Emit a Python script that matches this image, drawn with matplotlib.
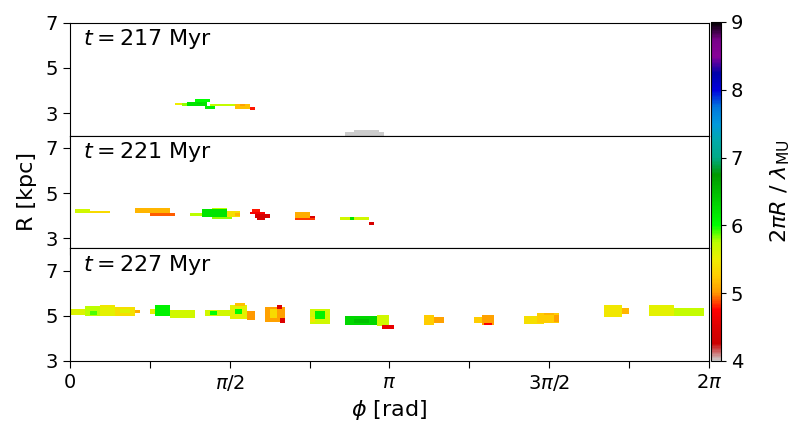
import matplotlib
matplotlib.use("Agg")
import matplotlib.pyplot as plt
import numpy as np

# clumps: (phi0, phi1, R0, R1, 2piR/lambda_MU)
CLUMPS_217 = [
    (1.02, 1.13, 3.35, 3.46, 5.5),
    (1.10, 1.20, 3.30, 3.46, 5.8),
    (1.23, 1.38, 3.50, 3.60, 6.0),
    (1.16, 1.36, 3.32, 3.52, 6.2),
    (1.24, 1.30, 3.38, 3.46, 6.3),
    (1.32, 1.42, 3.18, 3.32, 6.1),
    (1.38, 1.62, 3.28, 3.42, 5.7),
    (1.61, 1.77, 3.22, 3.42, 5.2),
    (1.66, 1.72, 3.30, 3.42, 5.05),
    (1.76, 1.82, 3.13, 3.27, 4.8),
    (2.70, 3.10, 2.00, 2.14, 4.0),
    (2.80, 3.05, 2.14, 2.26, 4.0),
]
CLUMPS_221 = [
    (0.04, 0.20, 4.08, 4.28, 5.65),
    (0.20, 0.39, 4.08, 4.22, 5.35),
    (0.63, 0.98, 4.12, 4.33, 5.15),
    (0.79, 1.03, 3.98, 4.12, 4.9),
    (1.17, 1.31, 4.01, 4.12, 5.75),
    (1.41, 1.55, 4.22, 4.33, 5.75),
    (1.31, 1.55, 3.95, 4.28, 6.2),
    (1.41, 1.60, 3.83, 3.95, 5.8),
    (1.55, 1.67, 3.93, 4.20, 5.4),
    (1.62, 1.67, 4.00, 4.12, 5.15),
    (1.80, 1.87, 4.17, 4.29, 4.8),
    (1.76, 1.92, 4.04, 4.17, 4.7),
    (1.82, 1.97, 3.92, 4.04, 4.4),
    (1.83, 1.92, 3.80, 3.92, 4.45),
    (2.20, 2.36, 3.92, 4.14, 5.1),
    (2.35, 2.41, 3.92, 4.02, 4.5),
    (2.20, 2.41, 3.80, 3.92, 4.85),
    (2.65, 2.94, 3.81, 3.93, 5.65),
    (2.75, 2.80, 3.81, 3.93, 6.2),
    (2.94, 3.00, 3.59, 3.68, 4.4),
]
CLUMPS_227 = [
    (0.01, 0.15, 5.06, 5.31, 5.6),
    (0.15, 0.30, 4.99, 5.44, 5.75),
    (0.20, 0.28, 5.05, 5.20, 5.9),
    (0.30, 0.44, 4.99, 5.44, 5.55),
    (0.30, 0.44, 5.40, 5.49, 5.45),
    (0.44, 0.64, 4.99, 5.40, 5.4),
    (0.50, 0.60, 5.15, 5.30, 5.6),
    (0.63, 0.69, 5.13, 5.24, 5.1),
    (0.78, 0.83, 5.10, 5.31, 5.55),
    (0.83, 0.98, 5.00, 5.49, 6.1),
    (0.98, 1.23, 4.88, 5.24, 5.65),
    (1.32, 1.56, 4.99, 5.24, 5.65),
    (1.38, 1.44, 5.05, 5.18, 6.0),
    (1.56, 1.75, 4.85, 5.50, 5.55),
    (1.62, 1.70, 5.10, 5.30, 6.0),
    (1.61, 1.72, 5.44, 5.55, 5.2),
    (1.75, 1.82, 4.79, 5.18, 5.0),
    (1.91, 2.11, 4.76, 5.40, 5.05),
    (1.97, 2.04, 4.90, 5.30, 5.35),
    (2.03, 2.08, 5.32, 5.49, 4.5),
    (2.06, 2.11, 4.69, 4.88, 4.5),
    (2.35, 2.56, 4.66, 5.31, 5.65),
    (2.41, 2.51, 4.85, 5.20, 6.1),
    (2.35, 2.41, 4.75, 4.95, 5.45),
    (2.69, 3.03, 4.61, 4.99, 6.3),
    (2.80, 2.95, 4.70, 4.85, 6.45),
    (3.03, 3.15, 4.55, 5.06, 5.65),
    (3.08, 3.20, 4.39, 4.62, 4.6),
    (3.48, 3.59, 4.61, 5.06, 5.25),
    (3.59, 3.69, 4.72, 4.95, 5.05),
    (3.97, 4.06, 4.70, 4.95, 5.25),
    (4.04, 4.18, 4.61, 5.06, 5.05),
    (4.08, 4.14, 4.61, 4.72, 4.75),
    (4.46, 4.66, 4.64, 5.00, 5.4),
    (4.60, 4.82, 4.70, 5.13, 5.25),
    (4.75, 4.82, 4.75, 5.05, 5.05),
    (4.66, 4.77, 5.05, 5.13, 5.15),
    (5.25, 5.42, 4.96, 5.50, 5.45),
    (5.42, 5.51, 5.10, 5.35, 5.15),
    (5.69, 5.95, 5.01, 5.50, 5.55),
    (5.95, 6.24, 5.01, 5.36, 5.7),
]
TIMES = [217, 221, 227]
YLIMS = [(2.0, 7.0), (2.55, 7.55), (3.0, 8.0)]

PHI_EDGES = np.linspace(0, 2 * np.pi, 257)
R_EDGES = np.arange(2.0, 8.0001, 0.05)


def rasterize(clumps):
    phi_c = 0.5 * (PHI_EDGES[1:] + PHI_EDGES[:-1])
    r_c = 0.5 * (R_EDGES[1:] + R_EDGES[:-1])
    grid = np.full((r_c.size, phi_c.size), np.nan)
    for p0, p1, r0, r1, val in clumps:
        mask_r = (r_c >= r0) & (r_c <= r1)
        mask_p = (phi_c >= p0) & (phi_c <= p1)
        grid[np.ix_(mask_r, mask_p)] = val
    return np.ma.masked_invalid(grid)


fig = plt.figure(figsize=(8.12, 4.42), dpi=100)
left, right = 0.0862, 0.873
bottom, height = 0.1833, 0.255
axes = []
for i, (clumps, t, ylim) in enumerate(zip([CLUMPS_217, CLUMPS_221, CLUMPS_227], TIMES, YLIMS)):
    ax = fig.add_axes([left, bottom + (2 - i) * height, right - left, height])
    mesh = ax.pcolormesh(PHI_EDGES, R_EDGES, rasterize(clumps),
                         cmap="nipy_spectral_r", vmin=4, vmax=9, shading="flat")
    ax.set_xlim(0, 2 * np.pi)
    ax.set_ylim(*ylim)
    ax.set_yticks([3, 5, 7])
    ax.tick_params(labelsize=14, direction="out", length=5)
    ax.text(0.02, 0.96, rf"$t = {t}$ Myr", transform=ax.transAxes,
            fontsize=16, va="top", ha="left")
    if i < 2:
        ax.tick_params(labelbottom=False)
    axes.append(ax)

axes[1].set_ylabel("R [kpc]", fontsize=16, labelpad=6)
axes[2].set_xticks(np.arange(9) * np.pi / 4)
axes[2].set_xticklabels(["0", "", r"$\pi/2$", "", r"$\pi$", "", r"$3\pi/2$", "", r"$2\pi$"])
axes[2].set_xlabel(r"$\phi$ [rad]", fontsize=16)

cax = fig.add_axes([0.8756, 0.1833, 0.0125, 0.767])
cbar = fig.colorbar(mesh, cax=cax)
cbar.set_ticks([4, 5, 6, 7, 8, 9])
cbar.ax.tick_params(labelsize=14)
cbar.set_label(r"$2\pi R\ /\ \lambda_{\rm MU}$", fontsize=16, labelpad=18)

fig.savefig("out.png", dpi=100)
